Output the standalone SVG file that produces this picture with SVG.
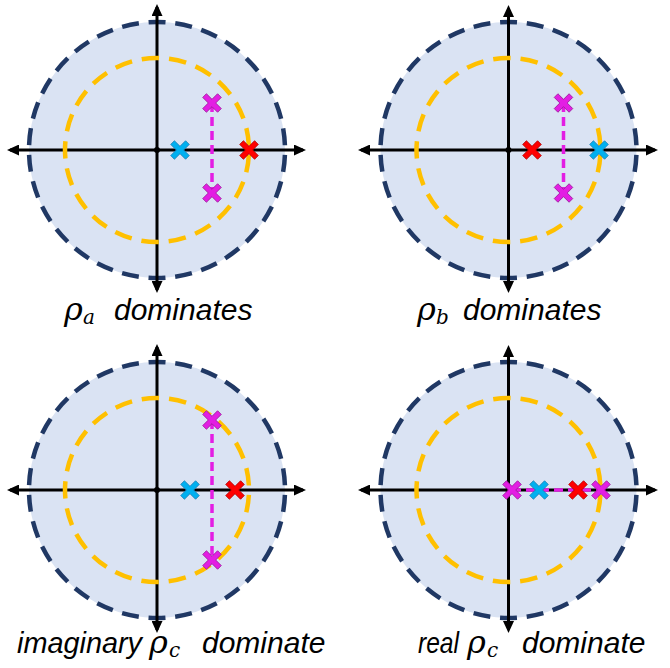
<svg xmlns="http://www.w3.org/2000/svg" width="670" height="668" viewBox="0 0 670 668">
<defs>
<marker id="ah" markerUnits="userSpaceOnUse" markerWidth="12" markerHeight="11" refX="9" refY="5.5" orient="auto-start-reverse"><path d="M0,0 L12,5.5 L0,11 Z" fill="#000"/></marker>
<path id="xm" d="M2.6,-10.5H-2.6V-2.6H-10.5V2.6H-2.6V10.5H2.6V2.6H10.5V-2.6H2.6Z" transform="rotate(45)"/>
</defs>
<style>
.disk{fill:#DAE3F3;stroke:#203864;stroke-width:4.5;stroke-dasharray:17 9.8;stroke-dashoffset:-4.9}
.ring{fill:none;stroke:#FFC000;stroke-width:4.5;stroke-dasharray:17.5 10;stroke-dashoffset:-5}
.axis{stroke:#000;stroke-width:3;fill:none;marker-start:url(#ah);marker-end:url(#ah)}
.dot{fill:#000}
.link{stroke:#E31EE3;stroke-width:3.5;stroke-dasharray:9 5;fill:none}
.xc{fill:#00B0F0;stroke:#1d7fb5;stroke-width:0.8}
.xr{fill:#FF0000;stroke:#b00000;stroke-width:0.8}
.xp{fill:#E31EE3;stroke:#9a1a9a;stroke-width:0.8}
.lbl{font-family:"Liberation Sans",Arial,sans-serif;font-style:italic;font-size:30px;fill:#000}
.rho{font-family:"DejaVu Serif","Liberation Serif",serif;font-style:italic;font-size:32px}
.sub{font-family:"DejaVu Serif","Liberation Serif",serif;font-style:italic;font-size:20px}
</style>

<g id="panel-a">
<circle class="disk" cx="157" cy="150" r="128"/>
<line class="axis" x1="10" y1="150" x2="303" y2="150"/>
<line class="axis" x1="157" y1="290" x2="157" y2="7"/>
<circle class="ring" cx="157" cy="150" r="92"/>
<circle class="dot" cx="157" cy="150" r="3"/>
</g>

<g id="panel-b">
<circle class="disk" cx="508.5" cy="150" r="128"/>
<line class="axis" x1="361" y1="150" x2="655" y2="150"/>
<line class="axis" x1="508.5" y1="290" x2="508.5" y2="8"/>
<circle class="ring" cx="508.5" cy="150" r="92"/>
<circle class="dot" cx="508.5" cy="150" r="3"/>
</g>

<g id="panel-c">
<circle class="disk" cx="157" cy="490" r="128"/>
<line class="axis" x1="10" y1="490" x2="303" y2="490"/>
<line class="axis" x1="157" y1="630" x2="157" y2="347"/>
<circle class="ring" cx="157" cy="490" r="92"/>
<circle class="dot" cx="157" cy="490" r="3"/>
</g>

<g id="panel-d">
<circle class="disk" cx="508.5" cy="490" r="128"/>
<line class="axis" x1="361" y1="490" x2="655" y2="490"/>
<line class="axis" x1="508.5" y1="630" x2="508.5" y2="348"/>
<circle class="ring" cx="508.5" cy="490" r="92"/>
<circle class="dot" cx="508.5" cy="490" r="3"/>
</g>

<g id="connectors">
<line class="link" x1="212" y1="103" x2="212" y2="193"/>
<line class="link" x1="563.5" y1="103" x2="563.5" y2="193"/>
<line class="link" x1="212" y1="420" x2="212" y2="560"/>
<line class="link" x1="512" y1="490" x2="601" y2="490"/>
</g>

<g id="poles-a">
<use href="#xm" class="xc" x="180" y="150"/>
<use href="#xm" class="xr" x="249" y="150"/>
<use href="#xm" class="xp" x="212" y="103"/>
<use href="#xm" class="xp" x="212" y="193"/>
</g>
<g id="poles-b">
<use href="#xm" class="xr" x="532" y="150"/>
<use href="#xm" class="xc" x="599" y="150"/>
<use href="#xm" class="xp" x="563.5" y="103"/>
<use href="#xm" class="xp" x="563.5" y="193"/>
</g>
<g id="poles-c">
<use href="#xm" class="xc" x="190" y="490"/>
<use href="#xm" class="xr" x="235" y="490"/>
<use href="#xm" class="xp" x="212" y="420"/>
<use href="#xm" class="xp" x="212" y="560"/>
</g>
<g id="poles-d">
<use href="#xm" class="xp" x="512" y="490"/>
<use href="#xm" class="xc" x="539" y="490"/>
<use href="#xm" class="xr" x="578" y="490"/>
<use href="#xm" class="xp" x="601" y="490"/>
</g>

<g id="labels">
<text class="lbl" y="320"><tspan class="rho" x="64">ρ</tspan><tspan class="sub" x="83" dy="4">a</tspan><tspan x="114" dy="-4">dominates</tspan></text>
<text class="lbl" y="320"><tspan class="rho" x="417">ρ</tspan><tspan class="sub" x="436" dy="4">b</tspan><tspan x="463" dy="-4">dominates</tspan></text>
<text class="lbl" y="653"><tspan x="17" textLength="125" lengthAdjust="spacingAndGlyphs">imaginary</tspan><tspan class="rho" x="149">ρ</tspan><tspan class="sub" x="169" dy="4">c</tspan><tspan x="202" dy="-4">dominate</tspan></text>
<text class="lbl" y="653"><tspan x="418" textLength="41" lengthAdjust="spacingAndGlyphs">real</tspan><tspan class="rho" x="467">ρ</tspan><tspan class="sub" x="487" dy="4">c</tspan><tspan x="522" dy="-4">dominate</tspan></text>
</g>
</svg>
